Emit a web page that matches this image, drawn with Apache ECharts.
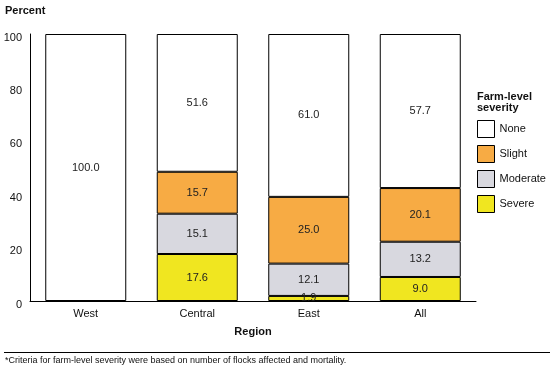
<!DOCTYPE html>
<html>
<head>
<meta charset="utf-8">
<script src="https://cdn.jsdelivr.net/npm/echarts@6/dist/echarts.min.js"></script>
<style>
html,body{margin:0;padding:0;background:#fff;}
#chart{width:550px;height:368px;}
</style>
</head>
<body>
<div id="chart"></div>
<script>
const categories = ['West', 'Central', 'East', 'All'];
const severe   = [0, 17.6, 1.9, 9.0];
const moderate = [0, 15.1, 12.1, 13.2];
const slight   = [0, 15.7, 25.0, 20.1];
const none     = [100.0, 51.6, 61.0, 57.7];
const yTicks = [0, 20, 40, 60, 80, 100];
const legendOrder = ['None', 'Slight', 'Moderate', 'Severe'];

const FONT = '"Liberation Sans", Arial, sans-serif';
const colors = { Severe: '#f0e620', Moderate: '#d8d8df', Slight: '#f7ab44', None: '#ffffff' };

function mk(name, data) {
  return {
    name: name,
    type: 'bar',
    stack: 'total',
    data: data.map(v => (v === 0 ? null : v)),
    barWidth: 81,
    itemStyle: { color: colors[name], borderColor: '#000', borderWidth: 1 },
    label: {
      show: true,
      position: 'inside',
      color: '#222',
      fontFamily: FONT,
      fontSize: 11,
      formatter: p => (p.value > 0 ? p.value.toFixed(1) : '')
    },
    emphasis: { disabled: true },
    animation: false
  };
}

const chart = echarts.init(document.getElementById('chart'), null, { renderer: 'canvas' });
chart.setOption({
  animation: false,
  backgroundColor: '#fff',
  textStyle: { fontFamily: FONT },
  grid: { left: 30, right: 74, top: 34, bottom: 67 },
  legend: {
    data: legendOrder,
    orient: 'vertical',
    left: 477,
    top: 120,
    padding: 0,
    itemWidth: 17,
    itemHeight: 17,
    itemGap: 7,
    icon: 'rect',
    selectedMode: false,
    itemStyle: { borderColor: '#000', borderWidth: 1 },
    textStyle: { fontFamily: FONT, fontSize: 11, color: '#111' }
  },
  xAxis: {
    type: 'category',
    data: categories,
    name: 'Region',
    nameLocation: 'middle',
    nameGap: 25,
    nameTextStyle: { fontFamily: FONT, fontSize: 11, fontWeight: 'bold', color: '#111' },
    axisLine: { lineStyle: { color: '#000', width: 1 } },
    axisTick: { show: false },
    axisLabel: { fontFamily: FONT, fontSize: 11, color: '#111', margin: 7 }
  },
  yAxis: {
    type: 'value',
    min: 0,
    max: 100,
    interval: 20,
    axisLine: { show: true, lineStyle: { color: '#000', width: 1 } },
    axisTick: { show: false },
    splitLine: { show: false },
    axisLabel: {
      fontFamily: FONT, fontSize: 11, color: '#111', margin: 8,
      verticalAlign: 'top',
      lineHeight: 11,
      padding: [-2, 0, 0, 0],
      formatter: v => (yTicks.indexOf(v) >= 0 ? String(v) : '')
    }
  },
  graphic: [
    { type: 'text', left: 5, top: 5, style: { text: 'Percent', font: 'bold 11px ' + FONT, fill: '#111' } },
    { type: 'text', left: 477, top: 91, style: { text: 'Farm-level\nseverity', font: 'bold 11px ' + FONT, lineHeight: 11, fill: '#111' } },
    { type: 'line', shape: { x1: 4, y1: 352.5, x2: 550, y2: 352.5 }, style: { stroke: '#000', lineWidth: 1 } },
    { type: 'text', left: 5, top: 356, style: { text: '*Criteria for farm-level severity were based on number of flocks affected and mortality.', font: '9px ' + FONT, fill: '#111' } }
  ],
  series: [
    mk('Severe', severe),
    mk('Moderate', moderate),
    mk('Slight', slight),
    mk('None', none)
  ]
});
</script>
</body>
</html>
